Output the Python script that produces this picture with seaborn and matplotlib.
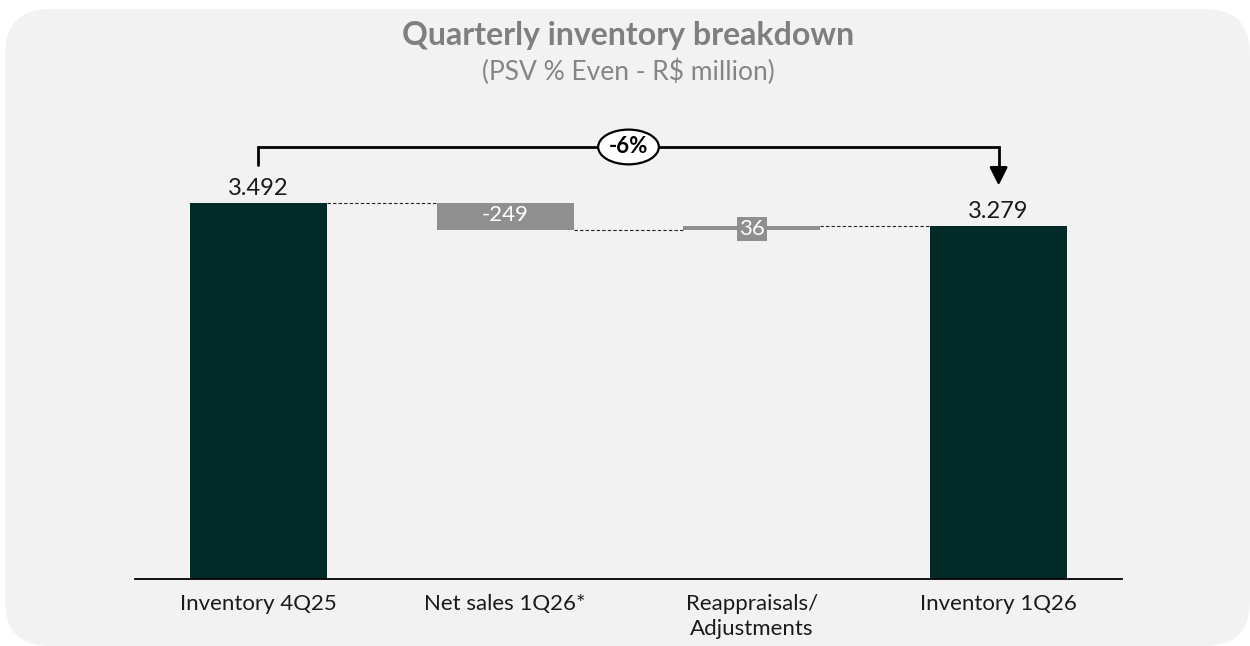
import matplotlib
matplotlib.use("Agg")
import matplotlib.pyplot as plt
from matplotlib.patches import FancyBboxPatch
import seaborn as sns
import pandas as pd

# Waterfall data (R$ million)
categories = ["Inventory 4Q25", "Net sales 1Q26*", "Reappraisals/\nAdjustments", "Inventory 1Q26"]
steps = [3492, -249, 36, 3279]
kinds = ["total", "delta", "delta", "total"]
change_label = "-6%"

title = "Quarterly inventory breakdown"
subtitle = "(PSV % Even - R$ million)"

DARK = "#022b27"
GREY = "#8f8f8f"
PANEL = "#f2f2f2"
TEXT = "#1a1a1a"

# bottoms / heights for each bar of the waterfall
bottoms, heights, levels = [], [], []
running = 0
for v, k in zip(steps, kinds):
    if k == "total":
        bottoms.append(0)
        heights.append(v)
        running = v
    else:
        bottoms.append(min(running, running + v))
        heights.append(abs(v))
        running += v
    levels.append(running)
tops = [b + h for b, h in zip(bottoms, heights)]

df = pd.DataFrame({"category": categories, "height": heights})
colors = [DARK if k == "total" else GREY for k in kinds]

sns.set_theme(style="white")
plt.rcParams["font.family"] = ["Lato", "DejaVu Sans"]

W, H = 1250, 646
fig = plt.figure(figsize=(W / 100, H / 100), dpi=100)
fig.patch.set_facecolor("white")

# rounded panel behind the chart
r = 45
panel = FancyBboxPatch((5 / W, 0 / H), (W - 5) / W, (H - 9) / H,
                       boxstyle=f"round,pad=0,rounding_size={r / W}",
                       mutation_aspect=W / H,
                       transform=fig.transFigure, facecolor=PANEL,
                       edgecolor="none", zorder=-5)
fig.patches.append(panel)

ax = fig.add_axes([135 / W, (H - 578.5) / H, 987 / W, (578.5 - 100) / H])
ax.set_facecolor("none")
ax.set_zorder(1)

bw = 0.555
sns.barplot(data=df, x="category", y="height", hue="category", palette=colors,
            width=bw, legend=False, saturation=1, ax=ax)

# shift delta bars to their floating position
for i, cont in enumerate(ax.containers):
    for p in cont.patches:
        p.set_y(bottoms[i])
        p.set_edgecolor("none")

ymax = (578.5 - 100) / 0.10753
ax.set_xlim(-0.5, 3.5)
ax.set_ylim(0, ymax)

# dashed connectors between bars
for i in range(len(categories) - 1):
    ax.plot([i + bw / 2, i + 1 - bw / 2], [levels[i], levels[i]],
            ls=(0, (3, 2)), color="#222222", lw=0.8, zorder=1)

# value labels
for i, (v, k) in enumerate(zip(steps, kinds)):
    txt = f"{v:,.0f}".replace(",", ".")
    if k == "total":
        ax.annotate(txt, (i, tops[i]), xytext=(0, 3), textcoords="offset points",
                    ha="center", va="bottom", fontsize=17, color=TEXT)
    elif heights[i] * 0.10753 > 20:
        ax.annotate(txt, (i, tops[i]), xytext=(0, -8.5), textcoords="offset points",
                    ha="center", va="center", fontsize=16, color="white")
    else:
        ax.text(i, (bottoms[i] + tops[i]) / 2 - 10, txt, ha="center", va="center",
                fontsize=16, color="white",
                bbox=dict(boxstyle="square,pad=0.1", fc=GREY, ec="none"))

# bracket showing the total change
yb = 4013
ax.plot([0, 0, 3, 3], [3846, yb, yb, 3800], color="black", lw=2, zorder=3,
        solid_joinstyle="miter")
ax.annotate("", xy=(3, 3655), xytext=(3, 3820),
            arrowprops=dict(arrowstyle="-|>,head_length=0.9,head_width=0.45",
                            color="black", lw=2, shrinkA=0, shrinkB=0))
ax.text(1.5, yb, change_label, ha="center", va="center", fontsize=16,
        fontweight="bold", color="black", zorder=5,
        bbox=dict(boxstyle="ellipse,pad=0.08", fc="white",
                  ec="black", lw=1.6))

# axis styling
sns.despine(ax=ax, left=True)
ax.spines["bottom"].set_color("black")
ax.spines["bottom"].set_linewidth(1.3)
ax.set_yticks([])
ax.set_xlabel("")
ax.set_ylabel("")
ax.tick_params(axis="x", length=0, pad=11, labelsize=16, labelcolor=TEXT)
for lbl in ax.get_xticklabels():
    lbl.set_linespacing(1.3)

fig.text(628 / W, 1 - 36 / H, title, ha="center", va="center", fontsize=23,
         fontweight="bold", color="#7f7f7f")
fig.text(628 / W, 1 - 72 / H, subtitle, ha="center", va="center", fontsize=19,
         color="#858585")

fig.savefig("out.png", dpi=100, facecolor="white")
